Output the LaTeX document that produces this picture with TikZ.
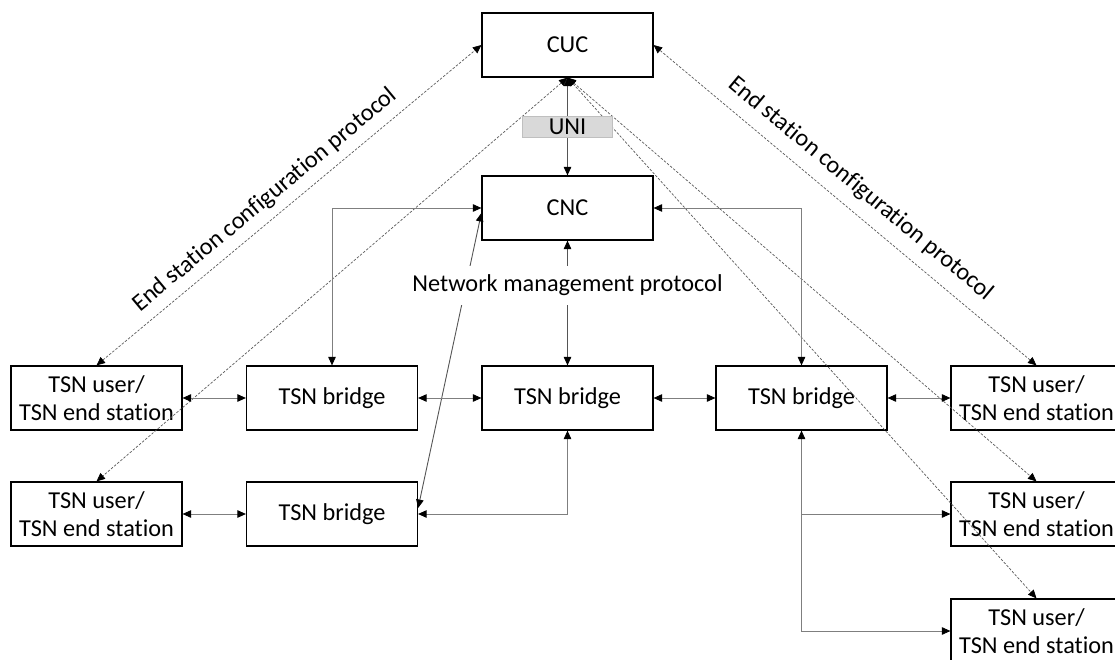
\documentclass[tikz,border=0pt]{standalone}
\usepackage{fontspec}
\setmainfont[Ligatures=NoCommon, RawFeature={-liga;-clig;-calt;-dlig}]{Carlito}
\usetikzlibrary{arrows.meta}
\definecolor{linkgray}{HTML}{7F7F7F}
\definecolor{darklink}{HTML}{555555}
\definecolor{dotgray}{HTML}{595959}
\definecolor{unifill}{HTML}{D9D9D9}
\definecolor{uniedge}{HTML}{BFBFBF}
\newcommand{\labelfont}{\fontsize{24.3}{27.5}\selectfont}
\begin{document}
\begin{tikzpicture}[x=1pt,y=-1pt,
  >={Triangle[length=8.5pt,width=7.5pt,color=black]},
  box/.style={draw=black, line width=1.2pt, minimum width=171pt, minimum height=64pt,
    inner sep=0pt, align=center, font=\labelfont},
  link/.style={draw=linkgray, line width=0.9pt, <->},
  mgmt/.style={draw=darklink, line width=0.9pt, <->},
  esc/.style={draw=dotgray, line width=0.7pt, dash pattern=on 2.5pt off 1.6pt, <->},
  uni/.style={fill=unifill, draw=uniedge, line width=0.8pt, minimum width=90pt,
    minimum height=21pt, inner sep=0pt, font=\labelfont},
  caption/.style={font=\labelfont, inner sep=0pt}
]
\clip (0,0) rectangle (1115,660);

% controllers
\node[box] (cuc) at (567.5,45) {CUC};
\node[box] (cnc) at (567.5,208) {CNC};

% end stations and bridges
\node[box] (lu1) at (96.5,398) {TSN user/\\TSN end station};
\node[box] (lu2) at (96.5,514) {TSN user/\\TSN end station};
\node[box] (b1)  at (332,398)  {TSN bridge};
\node[box] (bb)  at (332,514)  {TSN bridge};
\node[box] (mb)  at (567.5,398) {TSN bridge};
\node[box] (rb)  at (801.5,398) {TSN bridge};
\node[box] (ru1) at (1036.5,398) {TSN user/\\TSN end station};
\node[box] (ru2) at (1036.5,514) {TSN user/\\TSN end station};
\node[box] (ru3) at (1036.5,631) {TSN user/\\TSN end station};

% end station configuration protocol
\draw[esc] (lu1.north) -- (cuc.west);
\draw[esc] (ru1.north) -- (cuc.east);
\draw[esc] (cuc.south) -- (lu2.north);
\draw[esc] (cuc.south) -- (ru2.north);
\draw[esc] (cuc.south) -- (ru3.north);
\node[caption, rotate=39.8] (escl) at (265,200) {End station configuration protocol};
\node[caption, rotate=-39.7] (escr) at (861,189) {End station configuration protocol};

% user/network interface
\draw[mgmt] (cuc.south) -- node[uni] (unilabel) {UNI} (cnc.north);

% network management protocol
\draw[mgmt] ([yshift=6pt]bb.east) -- ([yshift=-5pt]cnc.west);
\draw[mgmt] (cnc.south) -- node[pos=0.36, fill=white, inner xsep=3pt, inner ysep=9pt,
  font=\labelfont] (nmp) {Network management protocol} (mb.north);
\draw[link] (b1.north) |- (cnc.west);
\draw[link] (rb.north) |- (cnc.east);

% data plane links
\draw[link] (lu1.east) -- (b1.west);
\draw[link] (b1.east) -- (mb.west);
\draw[link] (mb.east) -- (rb.west);
\draw[link] (rb.east) -- (ru1.west);
\draw[link] (lu2.east) -- (bb.west);
\draw[link] (mb.south) |- (bb.east);
\draw[link] (rb.south) |- (ru3.west);
\draw[link, ->] (rb.south |- ru2.west) -- (ru2.west);
\end{tikzpicture}
\end{document}
